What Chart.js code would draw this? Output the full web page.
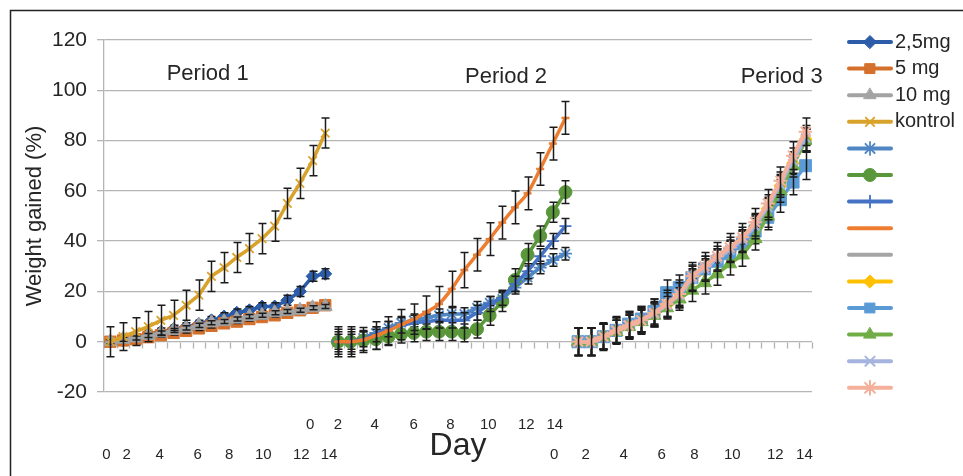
<!DOCTYPE html>
<html>
<head>
<meta charset="utf-8">
<script src="https://cdn.jsdelivr.net/npm/chart.js@4.4.0/dist/chart.umd.min.js"></script>
<style>
  html, body { margin: 0; padding: 0; background: #fff; }
  #wrap { width: 963px; height: 476px; position: relative; }
</style>
</head>
<body>
<div id="wrap"><canvas id="myChart"></canvas></div>
<script>
// period 1 (days shown as 18 points)
const p1Dose25 = [0, 0.5, 1.5, 3, 4, 5, 6, 7, 8.5, 10, 11.5, 12.5, 14, 14, 16.5, 20, 26, 27];
const p1Dose25Err = [1.5, 1.5, 1.5, 1.5, 1.5, 1.5, 1.5, 1.5, 1.5, 1.5, 1.5, 1.5, 1.5, 1.5, 2, 2, 2, 2];
const p1Dose5 = [0, 0.5, 1, 1.8, 2.6, 3.5, 4.3, 5.3, 6.3, 7.3, 8, 9, 9.8, 10.5, 11.5, 12.5, 13.5, 14.5];
const p1Dose5Err = [0.8, 0.8, 0.8, 0.8, 0.8, 0.8, 0.8, 0.8, 0.8, 0.8, 0.8, 0.8, 0.8, 0.8, 0.8, 0.8, 0.8, 0.8];
const p1Dose10 = [0, 1, 1.5, 2.5, 3.5, 4.5, 5.5, 6.5, 7.5, 8, 9, 10, 10.5, 11.5, 12, 12.5, 13.5, 14];
const p1Dose10Err = [0.8, 0.8, 0.8, 0.8, 0.8, 0.8, 0.8, 0.8, 0.8, 0.8, 0.8, 0.8, 0.8, 0.8, 0.8, 0.8, 0.8, 0.8];
const p1Kontrol = [0, 2, 4, 6, 8.5, 10.5, 14.5, 18.5, 26, 29.5, 33.5, 37, 41, 46, 55, 63, 72, 83];
const p1KontrolErr = [6, 5.5, 5.5, 6, 6, 6, 6, 6, 6, 6, 6, 6, 6, 6, 6, 6, 6, 6];

// period 2 (19 points)
const p2Star = [0, 0, 1.5, 3.5, 5.5, 7.5, 8.5, 9.5, 10.5, 11, 11, 13.5, 15.5, 17, 21.5, 25.5, 29.5, 32.5, 35];
const p2StarErr = [3, 3, 2.5, 2.5, 2.5, 2.5, 2.5, 2.5, 2.5, 2.5, 2.5, 2.5, 2.5, 2.5, 2.5, 2.5, 2.5, 2.5, 2.5];
const p2Green = [0, 0, 0.5, 1, 2, 3, 3.5, 4, 4, 4, 3.5, 5, 10.5, 16, 24.5, 34.6, 42, 51.5, 59.5];
const p2GreenErr = [5, 5, 4, 4, 3.5, 3.5, 3.5, 3.5, 3.5, 3.5, 3.5, 3.5, 4, 4, 4.5, 4.5, 4, 4, 4.5];
const p2Plus = [0, 0, 1, 3, 5, 6.5, 7.5, 8, 8.5, 8.5, 8.5, 11.5, 15, 17.5, 23, 28, 34, 40, 46];
const p2PlusErr = [4, 4, 3, 3, 3, 3, 3, 3, 3, 3, 3, 3, 3, 3, 3, 3, 3, 3, 3];
const p2Orange = [0, 0, 0.7, 2.4, 4.4, 6.8, 9, 11.7, 15, 21, 28.5, 34.6, 40.8, 47.4, 53.4, 59, 68.7, 78.8, 89];
const p2OrangeErr = [6, 6, 5, 5.5, 5.5, 6, 6, 6.5, 7, 7, 7, 6.5, 6.5, 6.5, 6.5, 6.5, 6.5, 6.5, 6.5];

// period 3 (19 points)
const p3Gray = [0, 0, 2, 4, 6, 8.5, 11, 14.5, 18.5, 24, 28, 32, 35.5, 39.5, 45.5, 52.5, 61.5, 71, 80];
const p3GrayErr = [5.5, 5.5, 5, 4.5, 4.5, 4.5, 4.5, 4.5, 4.5, 4.5, 4.5, 4.5, 4.5, 4.5, 4.5, 4.5, 4.5, 4.5, 4.5];
const p3Yellow = [0, 0, 2, 4, 6.5, 8.5, 11, 14.5, 19, 24.5, 28.5, 32.5, 36, 40, 46, 53, 62, 71, 80.5];
const p3YellowErr = [5.5, 5.5, 5, 4.5, 4.5, 4.5, 4.5, 4.5, 4.5, 4.5, 4.5, 4.5, 4.5, 4.5, 4.5, 4.5, 4.5, 4.5, 4.5];
const p3Square = [0, 0, 2, 4.5, 7, 9, 12, 19.5, 21.5, 25.5, 29, 32, 35, 39, 44, 49.5, 56.5, 63.5, 70];
const p3SquareErr = [5.5, 5.5, 5, 5, 5, 5, 5, 5, 5, 5, 5, 5, 5, 5, 5, 5, 5, 5, 5.5];
const p3Green = [0, 0, 2, 4, 6, 8, 10.5, 13.5, 17, 20.5, 23.5, 27, 31, 34.5, 41, 50, 60, 70, 80];
const p3GreenErr = [5.5, 5.5, 5, 4.5, 4.5, 4.5, 4.5, 4.5, 4.5, 4.5, 4.5, 4.5, 4.5, 4.5, 4.5, 4.5, 4.5, 4.5, 4.5];
const p3Lavender = [0, 0, 2, 4.5, 6.5, 8.5, 11, 14.5, 18.5, 25, 29, 33, 36.5, 40.5, 46, 53.5, 62.5, 72, 81];
const p3LavenderErr = [5.5, 5.5, 5, 5, 5, 5, 5, 5, 5, 5, 5, 5, 5, 5, 5, 5, 5, 5, 5];
const p3Pink = [0, 0, 2, 4.5, 6.5, 8.5, 11.5, 15, 19, 26, 30, 34, 37.5, 41.5, 47.5, 55, 64, 74, 83.5];
const p3PinkErr = [5.5, 5.5, 5.5, 5.5, 5.5, 5.5, 5.5, 5.5, 5.5, 5.5, 5.5, 5.5, 5.5, 5.5, 5.5, 5.5, 5.5, 5.5, 5.5];

// day tick labels, two rows like the excel original
const dayLabels = ['0', '2', '4', '6', '8', '10', '12', '14'];
const periodTitles = ['Period 1', 'Period 2', 'Period 3'];

// layout: category index where each period starts, and where the day labels sit
const periodStart = [0, 18, 37];
const row2P1Pos = [-0.3, 1.3, 3.9, 6.9, 9.4, 12.1, 15.1, 17.3];
const row1P2Pos = [15.8, 18.0, 20.9, 24.0, 26.9, 29.9, 32.9, 35.15];
const row2P3Pos = [35.1, 37.6, 40.6, 43.6, 46.2, 49.2, 52.6, 54.9];
const titlePos = [[7.7, 74], [31.3, 77], [53.1, 77]];

Chart.defaults.font.family = '"Liberation Sans", Arial, sans-serif';
Chart.defaults.color = '#262626';

const dayTicks = [];
row2P1Pos.forEach((v, i) => dayTicks.push({ value: v, label: ['', dayLabels[i]] }));
row1P2Pos.forEach((v, i) => dayTicks.push({ value: v, label: [dayLabels[i]] }));
row2P3Pos.forEach((v, i) => dayTicks.push({ value: v, label: ['', dayLabels[i]] }));

function series(label, values, errs, period, color, style, radius, extra) {
  return Object.assign({
    label: label,
    data: values.map((v, i) => ({ x: periodStart[period] + i, y: v })),
    errs: errs,
    borderColor: color,
    backgroundColor: color,
    pointBackgroundColor: color,
    pointBorderColor: color,
    borderWidth: 3.5,
    pointStyle: style,
    pointRadius: radius,
    pointBorderWidth: 1,
    tension: 0,
    fill: false
  }, extra || {});
}

const datasets = [
  series('2,5mg', p1Dose25, p1Dose25Err, 0, '#2c5ca8', 'rectRot', 6.5),
  series('5 mg', p1Dose5, p1Dose5Err, 0, '#d4702c', 'rect', 8),
  series('10 mg', p1Dose10, p1Dose10Err, 0, '#a3a3a3', 'triangle', 8),
  series('kontrol', p1Kontrol, p1KontrolErr, 0, '#d9a22b', 'crossRot', 6, { pointBorderWidth: 1.8 }),
  series('', p2Star, p2StarErr, 1, '#4f86c3', 'star', 6.5, { pointBorderWidth: 1.8 }),
  series('', p2Green, p2GreenErr, 1, '#5a963a', 'circle', 6.5),
  series('', p2Plus, p2PlusErr, 1, '#4472c4', 'cross', 6, { pointBorderWidth: 1.8 }),
  series('', p2Orange, p2OrangeErr, 1, '#ed7d31', 'line', 4, { pointBorderWidth: 2.5, tension: 0.25 }),
  series('', p3Gray, p3GrayErr, 2, '#a5a5a5', 'circle', 0),
  series('', p3Yellow, p3YellowErr, 2, '#ffc000', 'rectRot', 6.5),
  series('', p3Square, p3SquareErr, 2, '#5b9bd5', 'rect', 8.5),
  series('', p3Green, p3GreenErr, 2, '#70ad47', 'triangle', 8),
  series('', p3Lavender, p3LavenderErr, 2, '#a5b4de', 'crossRot', 6.5, { pointBorderWidth: 2 }),
  series('', p3Pink, p3PinkErr, 2, '#f4b09a', 'star', 7, { pointBorderWidth: 2, borderWidth: 4, tension: 0.2 })
];
// excel draws later series on top
datasets.forEach((d, i) => { d.order = datasets.length - i; });

const errorBars = {
  id: 'errorBars',
  afterDatasetDraw(chart, args) {
    const ds = chart.data.datasets[args.index];
    if (!ds.errs) return;
    const ctx = chart.ctx, xs = chart.scales.x, ys = chart.scales.y;
    ctx.save();
    ctx.strokeStyle = '#1c1c1c';
    ctx.lineWidth = 1.5;
    ds.data.forEach((p, i) => {
      const e = ds.errs[i];
      if (!e) return;
      const px = Math.round(xs.getPixelForValue(p.x)) + 0.5;
      const top = ys.getPixelForValue(p.y + e), bot = ys.getPixelForValue(p.y - e);
      ctx.beginPath();
      ctx.moveTo(px, top); ctx.lineTo(px, bot);
      ctx.moveTo(px - 4, top); ctx.lineTo(px + 4, top);
      ctx.moveTo(px - 4, bot); ctx.lineTo(px + 4, bot);
      ctx.stroke();
    });
    ctx.restore();
  }
};

const extras = {
  id: 'extras',
  beforeDatasetsDraw(chart) {
    // category axis crossing at 0 with small tick marks
    const ctx = chart.ctx, xs = chart.scales.x, ys = chart.scales.y;
    const y0 = Math.round(ys.getPixelForValue(0)) + 0.5;
    ctx.save();
    ctx.strokeStyle = '#b3b3b3';
    ctx.lineWidth = 1.3;
    ctx.beginPath();
    for (let k = 0; k <= 56; k++) {
      const px = Math.round(xs.getPixelForValue(k - 0.5)) + 0.5;
      ctx.moveTo(px, y0); ctx.lineTo(px, y0 + 6);
    }
    ctx.stroke();
    ctx.restore();
  },
  afterDraw(chart) {
    const ctx = chart.ctx, xs = chart.scales.x;
    ctx.save();
    // period titles
    ctx.fillStyle = '#262626';
    ctx.font = '22px "Liberation Sans", Arial, sans-serif';
    ctx.textAlign = 'center';
    ctx.textBaseline = 'middle';
    periodTitles.forEach((t, i) => ctx.fillText(t, xs.getPixelForValue(titlePos[i][0]), titlePos[i][1]));

    // legend, excel style: line with marker in the middle
    chart.data.datasets.forEach((ds, i) => {
      const ly = 42 + i * 26.6;
      ctx.strokeStyle = ds.borderColor;
      ctx.lineWidth = 4;
      ctx.lineCap = 'round';
      ctx.beginPath();
      ctx.moveTo(849, ly); ctx.lineTo(891, ly);
      ctx.stroke();
      if (ds.pointRadius > 0 && Chart.helpers && Chart.helpers.drawPoint) {
        ctx.fillStyle = ds.pointBackgroundColor;
        ctx.strokeStyle = ds.pointBorderColor;
        ctx.lineWidth = ds.pointBorderWidth;
        Chart.helpers.drawPoint(ctx, { pointStyle: ds.pointStyle, rotation: 0, radius: Math.min(ds.pointRadius, 7), borderWidth: ds.pointBorderWidth }, 870, ly);
      }
      if (ds.label) {
        ctx.fillStyle = '#262626';
        ctx.font = '20px "Liberation Sans", Arial, sans-serif';
        ctx.textAlign = 'left';
        ctx.fillText(ds.label, 895, ly);
      }
    });

    // outer frame
    ctx.strokeStyle = '#222';
    ctx.lineWidth = 1.5;
    ctx.beginPath();
    ctx.moveTo(10.5, 476); ctx.lineTo(10.5, 10.5); ctx.lineTo(963, 10.5);
    ctx.stroke();
    ctx.restore();
  }
};

const ctx = document.getElementById('myChart').getContext('2d');
const myChart = new Chart(ctx, {
  type: 'line',
  data: { datasets: datasets },
  options: {
    responsive: true,
    maintainAspectRatio: false,
    animation: false,
    layout: { padding: { left: 10, top: 40, right: 151, bottom: 0 } },
    plugins: { legend: { display: false }, tooltip: { enabled: false } },
    scales: {
      x: {
        type: 'linear',
        min: -0.5,
        max: 55.5,
        grid: { display: false },
        border: { display: false },
        afterBuildTicks: (s) => { s.ticks = dayTicks.map(t => ({ value: t.value })); },
        afterFit: (s) => { s.height = 84; },
        ticks: {
          autoSkip: false,
          maxRotation: 0,
          padding: 10,
          color: '#262626',
          font: { size: 15, lineHeight: 2 },
          callback: (v, i) => dayTicks[i].label
        },
        title: { display: true, text: 'Day', color: '#262626', font: { size: 32 }, padding: { top: 0, bottom: 11 } }
      },
      y: {
        min: -20,
        max: 120,
        afterFit: (s) => { s.width = 94; },
        ticks: { stepSize: 20, padding: 10, color: '#262626', font: { size: 21 } },
        grid: { color: '#b5b5b5', lineWidth: 1.3, tickLength: 7 },
        border: { color: '#b5b5b5', width: 1.3 },
        title: { display: true, text: 'Weight gained (%)', color: '#262626', font: { size: 22 }, padding: { top: 12, bottom: 0 } }
      }
    }
  },
  plugins: [errorBars, extras]
});
</script>
</body>
</html>
